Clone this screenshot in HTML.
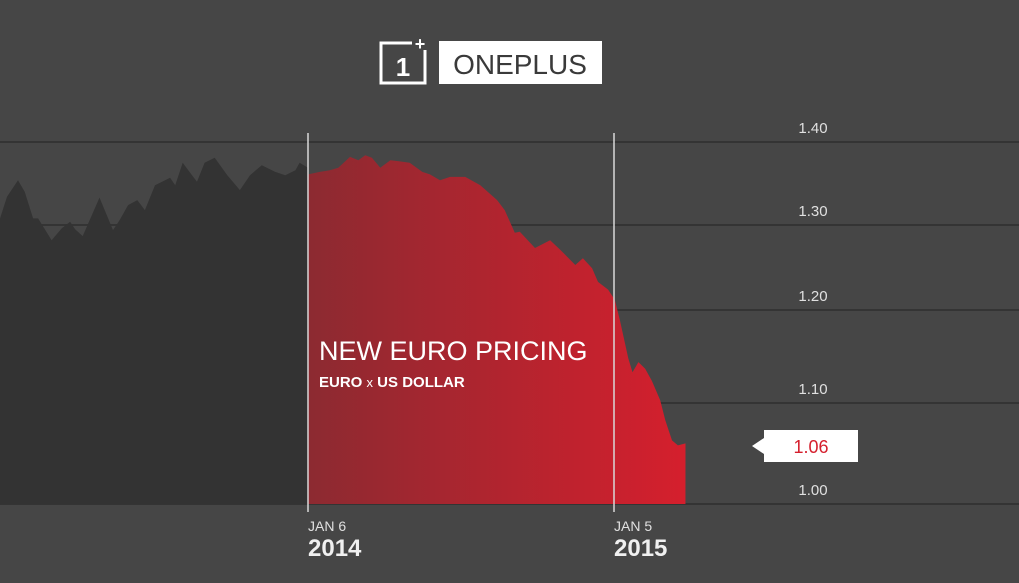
<!DOCTYPE html>
<html><head><meta charset="utf-8"><style>
html,body{margin:0;padding:0;background:#464646;}
svg{display:block;font-family:"Liberation Sans",sans-serif;}
</style></head><body>
<svg width="1019" height="583" viewBox="0 0 1019 583">
<defs>
<linearGradient id="redg" x1="0" x2="1" y1="0" y2="0">
<stop offset="0" stop-color="#8c2a31"/><stop offset="1" stop-color="#d51f2d"/>
</linearGradient>
</defs>
<rect width="1019" height="583" fill="#464646"/>
<g>
<rect x="381" y="43" width="44" height="40" fill="none" stroke="#fff" stroke-width="3"/>
<rect x="412" y="34" width="16" height="16" fill="#464646"/>
<text x="403" y="76" font-size="26" fill="#fff" text-anchor="middle" font-weight="bold">1</text>
<text x="420" y="50" font-size="18" fill="#fff" text-anchor="middle" font-weight="bold">+</text>
<rect x="439" y="41" width="163" height="43" fill="#fff"/>
<text x="520" y="74" font-size="28" fill="#3a3a3a" text-anchor="middle">ONEPLUS</text>
</g>
<g id="grid"></g>
<g id="areas"></g>
<g id="labels"></g>
<text x="319" y="360" font-size="27" fill="#fff">NEW EURO PRICING</text>
<text x="319" y="387" font-size="15" fill="#fff" font-weight="bold">EURO <tspan font-weight="normal" font-size="13">x</tspan> US DOLLAR</text>
<g>
<polygon points="752,446 764,438 764,430 858,430 858,462 764,462 764,454" fill="#fff"/>
<text x="811" y="453" font-size="18" fill="#d51f2d" text-anchor="middle">1.06</text>
</g>
</svg>
<script>
const tickValues=[1.00,1.10,1.20,1.30,1.40];
const tickLabels=["1.00","1.10","1.20","1.30","1.40"];
const tickPixels=[504,403,310,225,142];
const pastDays=[-367,-358,-345,-337,-327,-321,-305,-293,-283,-277,-268,-248,-232,-224,-214,-203,-194,-182,-170,-164,-158,-149,-138,-132,-123,-111,-96,-81,-69,-55,-39,-27,-15,-10,0];
const pastValues=[1.306,1.334,1.354,1.340,1.308,1.308,1.282,1.296,1.304,1.295,1.287,1.333,1.294,1.306,1.324,1.330,1.318,1.348,1.354,1.357,1.348,1.375,1.360,1.352,1.375,1.381,1.360,1.342,1.360,1.372,1.364,1.360,1.366,1.375,1.369];
const recentDays=[0,14,26,36,50,60,68,76,86,98,107,121,136,145,157,169,187,205,225,234,246,252,270,288,300,318,327,338,345,357,365,371,381,386,393,401,409,419,425,433,440,449];
const recentValues=[1.361,1.364,1.366,1.369,1.382,1.378,1.384,1.381,1.369,1.378,1.377,1.375,1.364,1.361,1.354,1.358,1.358,1.348,1.330,1.318,1.291,1.292,1.273,1.282,1.271,1.253,1.261,1.249,1.233,1.224,1.212,1.189,1.148,1.133,1.144,1.137,1.124,1.103,1.083,1.063,1.058,1.060];
const dateMarks=[0,364];
const dateSmall=["JAN 6","JAN 5"];
const dateYears=["2014","2015"];
const NS="http://www.w3.org/2000/svg";
function xs(d){return 308+(d)*306/364;}
function ys(v){
  for(let i=0;i<tickValues.length-1;i++){
    if(v<=tickValues[i+1]||i===tickValues.length-2){
      const t=(v-tickValues[i])/(tickValues[i+1]-tickValues[i]);
      return tickPixels[i]+t*(tickPixels[i+1]-tickPixels[i]);
    }
  }
}
function mk(tag,attrs,parent){const e=document.createElementNS(NS,tag);for(const k in attrs)e.setAttribute(k,attrs[k]);parent.appendChild(e);return e;}
const grid=document.getElementById('grid');
const labels=document.getElementById('labels');
const areas=document.getElementById('areas');
function areaPath(days,vals){
  let d='M'+xs(days[0])+','+ys(1.0);
  for(let i=0;i<days.length;i++)d+=' L'+xs(days[i]).toFixed(1)+','+ys(vals[i]).toFixed(1);
  d+=' L'+xs(days[days.length-1])+','+ys(1.0)+' Z';
  return d;
}
const pa=mk('path',{d:areaPath(pastDays,pastValues),fill:'#333333'},areas);


const ra=mk('path',{d:areaPath(recentDays,recentValues),fill:'url(#redg)'},areas);


tickValues.forEach((v,i)=>{
  const l=mk('line',{x1:0,x2:1019,y1:ys(v),y2:ys(v),stroke:'#2f2f2f','stroke-width':2,'stroke-opacity':0.8},grid);
  
  
  const t=mk('text',{x:813,y:ys(v)-9,'font-size':15,fill:'#e0e0e0','text-anchor':'middle'},labels);
  t.textContent=tickLabels[i];
  
  
});
dateMarks.forEach((d,i)=>{
  const x=xs(d);
  const l=mk('line',{x1:x,x2:x,y1:133,y2:512,stroke:'#d8d8d8','stroke-width':1.5},labels);
  
  
  const s=mk('text',{x:x,y:531,'font-size':14,fill:'#e0e0e0'},labels);
  s.textContent=dateSmall[i];
  
  
  const y=mk('text',{x:x,y:556,'font-size':24,'font-weight':'bold',fill:'#f0f0f0'},labels);
  y.textContent=dateYears[i];
  
  
});
</script>
</body></html>
